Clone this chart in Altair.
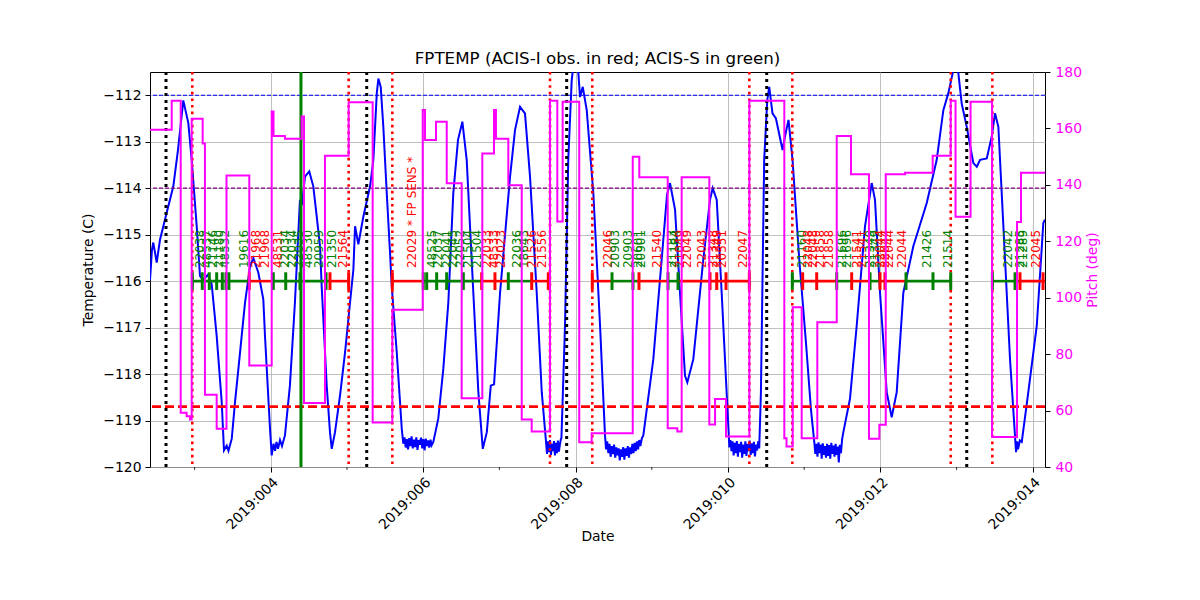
import altair as alt
import pandas as pd

# ---------------- data ----------------
# FPTEMP (day of 2019, deg C)
temp_pts = [
    (2.415, -115.98), (2.441, -115.32), (2.458, -115.17), (2.503, -115.60), (2.546, -115.11), (2.634, -114.53),
    (2.721, -113.96), (2.782, -113.18), (2.852, -112.11), (2.918, -112.60), (2.962, -113.39), (3.028, -114.82),
    (3.071, -115.89), (3.111, -115.98), (3.176, -115.86), (3.225, -116.07), (3.290, -117.18), (3.356, -118.60),
    (3.386, -119.64), (3.422, -119.54), (3.445, -119.65), (3.488, -119.39), (3.531, -118.60), (3.597, -117.53),
    (3.662, -116.46), (3.728, -115.68), (3.771, -115.50), (3.837, -115.82), (3.902, -116.39), (3.924, -117.18),
    (3.990, -119.18), (4.012, -119.75), (4.036, -119.50), (4.056, -119.65), (4.075, -119.46), (4.095, -119.61),
    (4.121, -119.42), (4.147, -119.55), (4.186, -119.32), (4.251, -118.25), (4.317, -116.46), (4.357, -115.11),
    (4.383, -114.25), (4.409, -114.36), (4.449, -113.75), (4.505, -113.64), (4.558, -113.96), (4.603, -114.61),
    (4.646, -115.25), (4.668, -116.11), (4.734, -118.25), (4.777, -119.25), (4.800, -119.61), (4.843, -119.25),
    (4.909, -118.46), (4.975, -117.53), (5.040, -116.46), (5.084, -115.75), (5.106, -114.82), (5.149, -115.21),
    (5.215, -114.61), (5.303, -113.96), (5.346, -113.39), (5.391, -111.96), (5.412, -111.64), (5.443, -111.82),
    (5.477, -112.68), (5.522, -114.11), (5.565, -115.39), (5.587, -116.11), (5.653, -117.53), (5.719, -119.18),
    (5.739, -119.50), (5.755, -119.36), (5.770, -119.58), (5.786, -119.40), (5.801, -119.62), (5.817, -119.38),
    (5.832, -119.55), (5.848, -119.34), (5.863, -119.60), (5.879, -119.41), (5.894, -119.57), (5.910, -119.36),
    (5.925, -119.63), (5.941, -119.42), (5.956, -119.52), (5.972, -119.37), (5.987, -119.60), (6.003, -119.40),
    (6.018, -119.64), (6.034, -119.39), (6.049, -119.55), (6.065, -119.43), (6.080, -119.58), (6.096, -119.41),
    (6.111, -119.53), (6.133, -119.46),
    (6.198, -118.96), (6.264, -117.89), (6.330, -116.46), (6.395, -114.11), (6.457, -112.96), (6.514, -112.57),
    (6.571, -113.39), (6.658, -116.25), (6.724, -118.39), (6.782, -119.61), (6.835, -119.25), (6.887, -118.25),
    (6.930, -118.22), (7.009, -116.25), (7.140, -113.75), (7.205, -112.75), (7.271, -112.25), (7.336, -112.39),
    (7.402, -113.75), (7.490, -116.25), (7.556, -118.39),
    (7.612, -119.46), (7.625, -119.72), (7.638, -119.45), (7.651, -119.68), (7.664, -119.42), (7.677, -119.74),
    (7.690, -119.50), (7.703, -119.66), (7.716, -119.44), (7.729, -119.75), (7.742, -119.48), (7.755, -119.70),
    (7.768, -119.43), (7.781, -119.67), (7.794, -119.52), (7.807, -119.40), (7.814, -119.39),
    (7.861, -116.96), (7.904, -113.39), (7.949, -111.68), (7.979, -111.25), (8.000, -111.20), (8.032, -111.42),
    (8.058, -112.04), (8.094, -111.82), (8.146, -112.32), (8.233, -114.11), (8.321, -116.96),
    (8.386, -119.32), (8.400, -119.62), (8.415, -119.45), (8.430, -119.70), (8.445, -119.50), (8.460, -119.78),
    (8.475, -119.55), (8.490, -119.72), (8.505, -119.52), (8.520, -119.80), (8.535, -119.58), (8.550, -119.75),
    (8.565, -119.60), (8.580, -119.86), (8.595, -119.62), (8.610, -119.78), (8.625, -119.57), (8.640, -119.84),
    (8.655, -119.60), (8.670, -119.76), (8.685, -119.55), (8.700, -119.80), (8.715, -119.58), (8.730, -119.72),
    (8.745, -119.50), (8.760, -119.70), (8.775, -119.48), (8.790, -119.66), (8.805, -119.45), (8.820, -119.62),
    (8.835, -119.42), (8.850, -119.55), (8.870, -119.38), (8.889, -119.32),
    (9.020, -117.68), (9.130, -115.53), (9.200, -114.14), (9.239, -113.89), (9.305, -114.46), (9.370, -116.25),
    (9.436, -118.04), (9.466, -118.18), (9.545, -117.68), (9.676, -115.53), (9.764, -114.25), (9.799, -114.00),
    (9.852, -114.25), (9.917, -116.25),
    (10.004, -119.11), (10.018, -119.58), (10.032, -119.42), (10.046, -119.66), (10.060, -119.45),
    (10.074, -119.75), (10.088, -119.48), (10.102, -119.70), (10.116, -119.44), (10.130, -119.78),
    (10.144, -119.50), (10.158, -119.68), (10.172, -119.46), (10.186, -119.80), (10.200, -119.52),
    (10.214, -119.72), (10.228, -119.45), (10.242, -119.76), (10.256, -119.50), (10.270, -119.66),
    (10.284, -119.43), (10.298, -119.74), (10.312, -119.49), (10.326, -119.70), (10.340, -119.46),
    (10.354, -119.77), (10.368, -119.52), (10.382, -119.64), (10.396, -119.45), (10.410, -119.60),
    (10.432, -118.39), (10.475, -113.39), (10.515, -112.11), (10.541, -111.82), (10.584, -112.39),
    (10.629, -112.50), (10.716, -113.18), (10.751, -112.86), (10.794, -112.53), (10.847, -113.39),
    (10.935, -115.53), (11.023, -117.32), (11.088, -118.75),
    (11.132, -119.46), (11.146, -119.72), (11.160, -119.50), (11.174, -119.78), (11.188, -119.47),
    (11.202, -119.70), (11.216, -119.52), (11.230, -119.82), (11.244, -119.49), (11.258, -119.74),
    (11.272, -119.55), (11.286, -119.80), (11.300, -119.50), (11.314, -119.76), (11.328, -119.53),
    (11.342, -119.82), (11.356, -119.48), (11.370, -119.72), (11.384, -119.54), (11.398, -119.78),
    (11.412, -119.50), (11.426, -119.74), (11.440, -119.56), (11.454, -119.90), (11.468, -119.52),
    (11.482, -119.70), (11.498, -119.40), (11.514, -119.25),
    (11.601, -118.53), (11.689, -116.96), (11.798, -114.82), (11.886, -113.89), (11.929, -114.25),
    (11.995, -116.25), (12.083, -118.39), (12.148, -118.93), (12.214, -118.39), (12.301, -116.25),
    (12.432, -115.25), (12.608, -114.32), (12.739, -113.39), (12.826, -112.32), (12.891, -111.96),
    (12.957, -111.46), (12.992, -111.25), (13.023, -111.53), (13.067, -112.18), (13.133, -112.68),
    (13.220, -113.46), (13.265, -113.54), (13.308, -113.39), (13.396, -113.36), (13.461, -112.89),
    (13.504, -112.39), (13.548, -112.68), (13.614, -114.82), (13.701, -117.68), (13.780, -119.68),
    (13.794, -119.45), (13.806, -119.62), (13.830, -119.43), (13.855, -119.46), (13.941, -118.39),
    (14.052, -116.96), (14.138, -114.75), (14.160, -114.68),
]

# pitch (deg), step changes
pitch_pts = [
    (2.415, 159.5), (2.700, 169.8), (2.818, 59.2), (2.896, 58.0), (2.940, 56.8), (2.962, 163.4), (3.106, 154.7),
    (3.136, 65.6), (3.290, 53.6), (3.419, 143.3), (3.718, 76.0), (4.012, 166.0), (4.036, 157.3), (4.186, 156.3),
    (4.405, 164.2), (4.436, 62.7), (4.711, 150.3), (5.022, 169.3), (5.337, 55.8), (5.595, 95.7), (5.994, 166.5),
    (6.024, 155.9), (6.168, 162.4), (6.309, 140.6), (6.505, 64.4), (6.776, 151.1), (6.929, 166.5),
    (6.955, 156.3), (7.117, 139.9), (7.293, 56.8), (7.424, 52.6), (7.664, 169.8), (7.760, 127.0),
    (7.830, 169.5), (8.048, 48.8), (8.211, 52.0), (8.750, 150.0), (8.836, 142.7), (9.209, 53.7), (9.335, 52.6),
    (9.392, 142.7), (9.755, 55.1), (9.830, 64.1), (9.974, 50.8), (10.280, 169.8), (10.739, 50.2),
    (10.768, 47.3), (10.849, 96.6), (10.967, 50.2), (11.172, 91.3), (11.427, 157.3), (11.614, 143.8),
    (11.850, 50.0), (11.986, 55.0), (12.070, 143.8), (12.323, 144.3), (12.686, 150.3), (12.923, 169.8),
    (12.986, 128.7), (13.183, 169.5), (13.465, 50.6), (13.793, 126.8), (13.845, 144.3), (14.160, 144.3),
]

perigee_day = [2.625, 5.259, 7.883, 10.508, 13.133]
radzone_day = [2.970, 5.022, 5.595, 7.664, 8.219, 10.280, 10.844, 12.923, 13.469]
event_day = [4.396]

limit_blue = [-112.0]
limit_purple = [-114.0]
limit_red = [-118.7]

seg_start = [2.970, 3.718, 4.033, 4.777, 5.595, 6.001, 6.768, 7.117, 7.424, 8.219, 8.465, 8.806, 9.213,
             9.344, 10.844, 10.980, 11.427, 11.623, 11.864, 11.995, 12.336, 13.469, 13.832]
seg_end = [3.718, 4.033, 4.777, 5.022, 6.001, 6.768, 7.117, 7.424, 7.664, 8.465, 8.806, 9.213, 9.344,
           10.280, 10.980, 11.427, 11.623, 11.864, 11.995, 12.336, 12.923, 13.832, 14.300]
seg_instr = ["S", "I", "S", "I", "I", "S", "I", "S", "I", "I", "S", "I", "S", "I",
             "S", "I", "S", "I", "S", "I", "S", "S", "I"]

tick_day = [2.970, 3.101, 3.193, 3.290, 3.364, 3.412, 3.451, 3.718, 4.033, 4.196, 4.383, 4.725, 4.777, 5.022,
            5.595, 6.001, 6.046, 6.177, 6.308, 6.527, 6.768, 6.942, 7.117, 7.424, 7.642,
            8.219, 8.478, 8.753, 8.832, 9.213, 9.344, 9.764, 9.852, 9.974, 10.280,
            10.844, 10.980, 11.164, 11.427, 11.623, 11.864, 11.995, 12.060, 12.336, 12.690, 12.923,
            13.469, 13.767, 13.832, 14.134]
tick_instr = ["S", "S", "S", "S", "S", "S", "S", "I", "S", "S", "S", "S", "I", "I",
              "I", "S", "S", "S", "S", "S", "I", "I", "S", "I", "I",
              "I", "S", "S", "I", "S", "S", "I", "I", "I", "I",
              "S", "I", "I", "S", "I", "S", "I", "I", "S", "S", "S",
              "S", "S", "I", "I"]

label_day = [3.071, 3.159, 3.245, 3.324, 3.399, 3.652, 3.806, 3.924, 4.099, 4.186, 4.275, 4.370, 4.488,
             4.637, 4.799, 4.952,
             5.849, 6.111, 6.198, 6.308, 6.395, 6.483, 6.592, 6.710, 6.841, 6.929, 7.017, 7.235, 7.323,
             7.424, 7.555,
             8.429, 8.517, 8.691, 8.818, 8.862, 9.065, 9.262, 9.305, 9.370, 9.458, 9.655, 9.807, 9.852,
             9.917, 10.193,
             10.968, 11.054, 11.120, 11.208, 11.326, 11.492, 11.557, 11.689, 11.754, 11.864, 11.929,
             11.995, 12.060, 12.113, 12.279, 12.608, 12.891,
             13.679, 13.832, 13.875, 14.042]
label_text = ["22038", "48537", "21146", "21180", "48532", "19616", "21968", "21968", "48531", "22034",
              "22034", "22035", "48530", "20959", "21350", "21564",
              "22029 * FP SENS *", "48525", "22037", "22041", "22045", "22052", "21504", "21504", "22033",
              "48533", "22023", "22036", "18643", "21526", "21556",
              "22046", "20903", "20903", "20601", "20901", "21540", "21183", "21184", "21049", "22049",
              "22043", "21348", "21349", "20551", "22047",
              "21160", "22048", "22048", "21858", "21858", "21696", "21696", "21541", "21541", "21349",
              "21349", "22044", "22044", "22044", "22044", "21426", "21514",
              "22042", "21285", "21289", "22045"]
label_instr = ["S", "S", "S", "S", "S", "S", "I", "I", "I", "S", "S", "S", "S", "S", "S", "I",
               "I", "S", "S", "S", "S", "S", "S", "S", "I", "I", "I", "S", "S", "I", "I",
               "I", "S", "S", "S", "S", "I", "S", "S", "I", "I", "I", "I", "I", "I", "I",
               "S", "I", "I", "I", "I", "S", "S", "I", "I", "S", "S", "I", "I", "I", "I", "S", "S",
               "S", "S", "S", "I"]

major_days = [4, 6, 8, 10, 12, 14]
minor_days = [3, 5, 7, 9, 11, 13]
temp_ticks = [-120, -119, -118, -117, -116, -115, -114, -113, -112]
pitch_ticks = [40, 60, 80, 100, 120, 140, 160, 180]

# ---------------- chart ----------------
FONT = "DejaVu Sans"
W, H = 895, 395
X_SCALE = alt.Scale(domain=[2.415, 14.16], nice=False, zero=False)
T_SCALE = alt.Scale(domain=[-120, -111.5], nice=False, zero=False)
P_SCALE = alt.Scale(domain=[40, 180], nice=False, zero=False)
COLOR = alt.Color("instr:N", scale=alt.Scale(domain=["I", "S"], range=["#ff0000", "#008000"]), legend=None)

x_axis = alt.Axis(values=major_days, grid=True, gridColor="#b0b0b0", gridWidth=0.8, domain=False,
                  tickColor="black", tickSize=5, labelFont=FONT, labelFontSize=13.9, labelColor="black",
                  labelAngle=315, labelAlign="right", labelBaseline="top", labelPadding=3,
                  labelExpr="datum.value < 10 ? '2019:00' + datum.value : '2019:0' + datum.value",
                  title="Date", titleFont=FONT, titleFontSize=13.9, titleFontWeight="normal",
                  titleColor="black", titleX=W / 2, titleY=69, titleAlign="center", titleBaseline="middle")
t_axis = alt.Axis(values=temp_ticks, grid=True, gridColor="#b0b0b0", gridWidth=0.8, domain=False,
                  tickColor="black", tickSize=5, labelFont=FONT, labelFontSize=13.9, labelColor="black",
                  labelPadding=4, format="d", title="Temperature (C)", titleFont=FONT, titleFontSize=13.9,
                  titleFontWeight="normal", titleColor="black", titleX=-62, titleY=H / 2, titleAngle=270,
                  titleAlign="center", titleBaseline="middle")
p_axis = alt.Axis(orient="right", values=pitch_ticks, grid=False, domain=False, tickColor="black", tickSize=5,
                  labelFont=FONT, labelFontSize=13.9, labelColor="#ff00ff", labelPadding=5,
                  title="Pitch (deg)", titleFont=FONT, titleFontSize=13.9, titleFontWeight="normal",
                  titleColor="#ff00ff", titleX=47, titleY=H / 2, titleAngle=270, titleAlign="center",
                  titleBaseline="middle")


def xe(field):
    return alt.X(f"{field}:Q", scale=X_SCALE, axis=x_axis)


def ye(field):
    return alt.Y(f"{field}:Q", scale=T_SCALE, axis=t_axis)


def yd(v):
    return alt.YDatum(v, type="quantitative", scale=T_SCALE, axis=t_axis)


temp_df = pd.DataFrame(temp_pts, columns=["day", "temp"])
pitch_df = pd.DataFrame(pitch_pts, columns=["day", "pitch"])
seg_df = pd.DataFrame({"start": seg_start, "end": seg_end, "instr": seg_instr})
tick_df = pd.DataFrame({"day": tick_day, "instr": tick_instr})
lab_df = pd.DataFrame({"day": label_day, "id": label_text, "instr": label_instr})

temp_line = alt.Chart(temp_df).mark_line(color="#0000ff", strokeWidth=2, clip=True).encode(
    x=xe("day"), y=ye("temp"))

h_blue = alt.Chart(pd.DataFrame({"t": limit_blue})).mark_rule(
    color="#0000ff", strokeWidth=1.2, strokeDash=[4, 2]).encode(y=ye("t"))
h_purple = alt.Chart(pd.DataFrame({"t": limit_purple})).mark_rule(
    color="#800080", strokeWidth=1.2, strokeDash=[4, 2]).encode(y=ye("t"))
h_red = alt.Chart(pd.DataFrame({"t": limit_red})).mark_rule(
    color="#ff0000", strokeWidth=2.6, strokeDash=[9, 4]).encode(y=ye("t"))

v_black = alt.Chart(pd.DataFrame({"day": perigee_day})).mark_rule(
    color="black", strokeWidth=3, strokeDash=[3, 4]).encode(x=xe("day"))
v_red = alt.Chart(pd.DataFrame({"day": radzone_day})).mark_rule(
    color="#ff0000", strokeWidth=2.6, strokeDash=[2.6, 4]).encode(x=xe("day"))
v_green = alt.Chart(pd.DataFrame({"day": event_day})).mark_rule(
    color="#008000", strokeWidth=3).encode(x=xe("day"))

segs = alt.Chart(seg_df).mark_rule(strokeWidth=2.6, clip=True).encode(
    x=xe("start"), x2="end:Q", y=yd(-116.0), color=COLOR)
ticks = alt.Chart(tick_df).mark_rule(strokeWidth=3, clip=True).encode(
    x=xe("day"), y=yd(-116.19), y2=alt.Y2Datum(-115.81), color=COLOR)
labels = alt.Chart(lab_df).mark_text(angle=270, align="left", baseline="middle", fontSize=12, font=FONT).encode(
    x=xe("day"), y=yd(-115.72), text="id:N", color=COLOR)

minor = alt.Chart(pd.DataFrame({"day": minor_days})).mark_rule(color="black", strokeWidth=0.8).encode(
    x=xe("day"), y=alt.value(H), y2=alt.value(H + 3))

left = alt.layer(temp_line, h_blue, h_purple, h_red, v_black, v_red, v_green, segs, ticks, labels, minor)

pitch_line = alt.Chart(pitch_df).mark_line(color="#ff00ff", strokeWidth=2, interpolate="step-after",
                                           clip=True).encode(
    x=xe("day"), y=alt.Y("pitch:Q", scale=P_SCALE, axis=p_axis))

chart = alt.layer(left, pitch_line).resolve_scale(y="independent").properties(
    width=W, height=H,
    autosize=alt.AutoSizeParams(type="none"),
    padding={"left": 142, "top": 64, "right": 140, "bottom": 125},
    background="white",
    title=alt.TitleParams("FPTEMP (ACIS-I obs. in red; ACIS-S in green)", font=FONT, fontSize=16.7,
                          fontWeight="normal", color="black", anchor="middle", frame="group",
                          baseline="bottom", offset=-20),
).configure_view(stroke="black", strokeWidth=1)

chart.save("out.html", embed_options={"renderer": "svg", "actions": False})
